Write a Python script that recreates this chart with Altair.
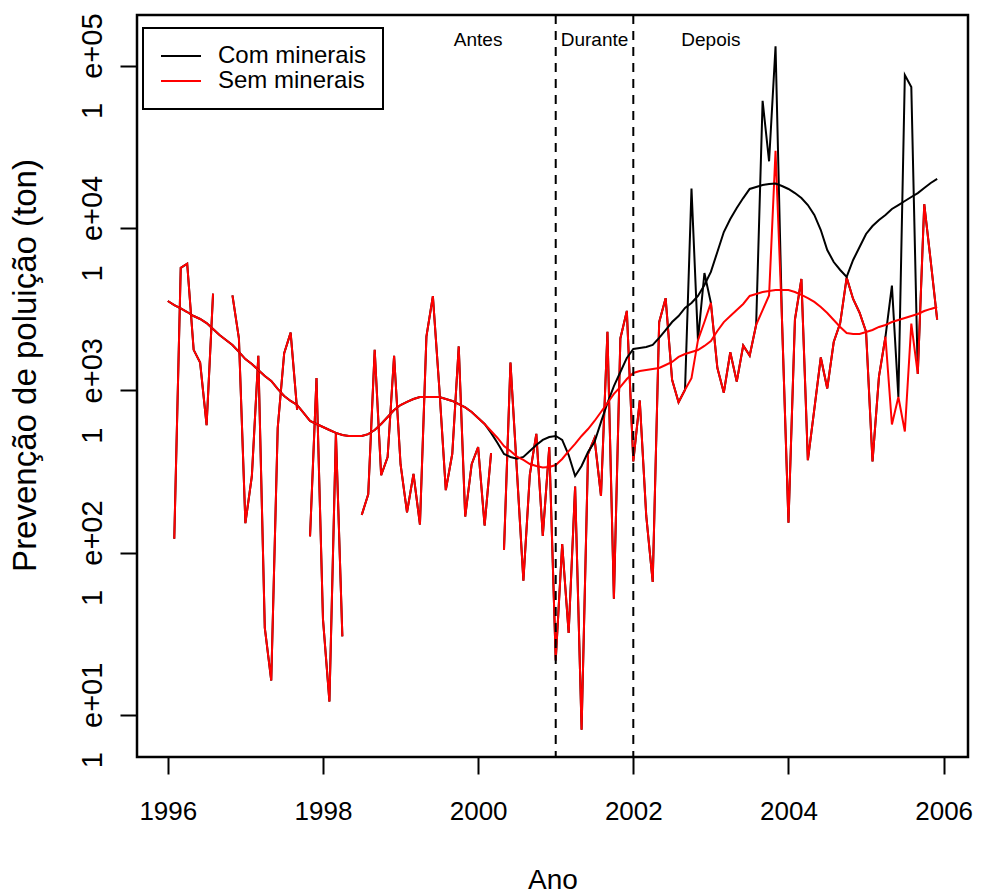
import altair as alt
import pandas as pd

# Monthly series, Jan 1996 .. Dec 2005 (None = missing month)
ano_inicial = 1996
n_meses = 120

sem_minerais = [
    None, 122, 5690, 6040, 1778, 1483, 611, 3945, None, None,
    3850, 2089, 152, 296, 1636, 34.5, 16.3, 587, 1693, 2270,
    760, None, 126, 1190, 39, 12.1, 545, 30.5, None, None,
    171, 229, 1778, 300, 388, 1636, 351, 177, 306, 149,
    2142, 3810, 1028, 243, 407, 1866, 167, 351, 448, 147,
    411, None, 104, 1483, 318, 67.3, 303, 540, 127, 448,
    21.7, 113, 32, 256, 8.1, 407, 507, 224, 2300, 52,
    2089, 3090, 365, 867, 169, 66, 2630, 3700, 1162, 845,
    1010, 1190, 2040, 2640, 3460, 1377, 968, 1718, 1132, 1891,
    1637, 2537, 3125, 3846, 29900, 2700, 153, 2730, 4855, 372,
    767, 1596, 1028, 1986, 2600, 4955, 3660, 3010, 2300, 365,
    1220, 2140, 616, 910, 558, 2578, 1262, 14030, 6270, 2730,
]

com_minerais = [
    None, 122, 5690, 6040, 1778, 1483, 611, 3945, None, None,
    3850, 2089, 152, 296, 1636, 34.5, 16.3, 587, 1693, 2270,
    760, None, 126, 1190, 39, 12.1, 545, 30.5, None, None,
    171, 229, 1778, 300, 388, 1636, 351, 177, 306, 149,
    2142, 3810, 1028, 243, 407, 1866, 167, 351, 448, 147,
    411, None, 104, 1483, 318, 67.3, 303, 540, 127, 448,
    21.7, 113, 32, 256, 8.1, 407, 507, 224, 2300, 52,
    2089, 3090, 365, 867, 169, 66, 2630, 3700, 1162, 845,
    1010, 17500, 2040, 5290, 3460, 1377, 968, 1718, 1132, 1891,
    1637, 2537, 60800, 25800, 132000, 2700, 153, 2730, 4855, 372,
    767, 1596, 1028, 1986, 2600, 4955, 3660, 3010, 2300, 365,
    1220, 2140, 4420, 910, 87700, 74000, 1262, 14030, 6270, 2730,
]

# Smoothed trend of each series
tendencia_sem = [
    3556, 3357, 3199, 3041, 2872, 2754, 2600, 2388, 2193, 2046,
    1905, 1726, 1560, 1455, 1336, 1227, 1143, 1021, 924, 861,
    813, 726, 648, 621, 595, 570, 547, 531, 524, 524,
    524, 538, 570, 621, 686, 757, 813, 849, 885, 910,
    910, 910, 910, 885, 861, 824, 785, 736, 676, 621,
    562, 509, 454, 423, 391, 373, 352, 342, 335, 337,
    347, 378, 423, 468, 524, 578, 648, 736, 836, 951,
    1050, 1175, 1280, 1318, 1336, 1355, 1374, 1434, 1496, 1607,
    1675, 1726, 1774, 1879, 2015, 2323, 2637, 2872, 3128, 3407,
    3817, 3926, 4037, 4093, 4159, 4159, 4159, 4037, 3873, 3707,
    3508, 3266, 2999, 2716, 2460, 2259, 2228, 2228, 2291, 2355,
    2460, 2529, 2637, 2716, 2793, 2872, 2958, 3083, 3177, 3266,
]

tendencia_com = [
    3556, 3357, 3199, 3041, 2872, 2754, 2600, 2388, 2193, 2046,
    1905, 1726, 1560, 1455, 1336, 1227, 1143, 1021, 924, 861,
    813, 726, 648, 621, 595, 570, 547, 531, 524, 524,
    524, 538, 570, 621, 686, 757, 813, 849, 885, 910,
    910, 910, 910, 885, 861, 824, 785, 736, 676, 621,
    547, 474, 406, 389, 380, 389, 423, 461, 495, 516,
    524, 495, 400, 297, 342, 417, 481, 638, 836, 1064,
    1298, 1585, 1799, 1824, 1852, 1905, 2104, 2355, 2637, 2872,
    3220, 3459, 3817, 4457, 5370, 7130, 9460, 11380, 13300, 15310,
    17420, 17910, 18450, 18700, 18800, 18160, 17420, 16440, 15310, 13870,
    12050, 9730, 7330, 6180, 5520, 5000, 6360, 7650, 9200, 10300,
    11220, 12050, 13120, 13870, 14690, 15550, 16440, 17660, 18970, 20090,
]

series = ["Com minerais", "Sem minerais"]
cores = ["#000000", "#FF0000"]

cortes = [2001, 2002]
fases = ["Antes", "Durante", "Depois"]
fases_ano = [2000, 2001.5, 2003]
fases_valor = [145000, 145000, 145000]

y_ticks = [10, 100, 1000, 10000, 100000]
x_ticks = [1996, 1998, 2000, 2002, 2004, 2006]
y_dominio = [5.51, 205600]
x_dominio = [1995.603, 2006.314]

anos = [ano_inicial + i / 12 for i in range(n_meses)]


def tabela(valores, serie):
    """Rows of one series; each unbroken run of months gets its own segment id."""
    linhas, seg, anterior = [], 0, False
    for ano, v in zip(anos, valores):
        if v is None:
            if anterior:
                seg += 1
            anterior = False
            continue
        anterior = True
        linhas.append({"ano": ano, "valor": v, "serie": serie, "seg": seg})
    return pd.DataFrame(linhas)


fonte = "Liberation Sans"

x_enc = alt.X(
    "ano:Q",
    scale=alt.Scale(domain=x_dominio, nice=False, zero=False),
    axis=alt.Axis(
        values=x_ticks, format="d", title="Ano", grid=False, domain=False,
        tickSize=17, tickWidth=2, tickColor="black",
        labelFontSize=26, labelPadding=24, labelFlush=False, labelOverlap=False,
        labelColor="black", titleFontSize=28, titleFontWeight="normal",
        titleColor="black", titleY=131, titleBaseline="alphabetic",
    ),
)
y_enc = alt.Y(
    "valor:Q",
    scale=alt.Scale(type="log", domain=y_dominio, nice=False),
    axis=alt.Axis(
        values=y_ticks,
        labelExpr="'1\u00a0\u00a0\u00a0e+0' + format(log(datum.value) / LN10, '.0f')",
        title="Prevenção de poluição (ton)", grid=False, domain=False,
        tickSize=17, tickWidth=2, tickColor="black",
        labelAngle=270, labelAlign="center", labelBaseline="middle",
        labelFontSize=29, labelPadding=28, labelFlush=False, labelOverlap=False,
        labelColor="black", titleFontSize=33, titleFontWeight="normal",
        titleColor="black", titleAngle=270, titleX=-112, titleY=350,
        titleAlign="center", titleBaseline="middle",
    ),
)
cor = alt.Color(
    "serie:N",
    scale=alt.Scale(domain=series, range=cores),
    legend=alt.Legend(title=None),
)


def camada(df):
    return alt.Chart(df).mark_line(strokeWidth=2).encode(
        x=x_enc, y=y_enc, color=cor, detail="seg:N"
    )


bruto_com = camada(tabela(com_minerais, series[0]))
bruto_sem = camada(tabela(sem_minerais, series[1]))
suave_com = camada(tabela(tendencia_com, series[0]))
suave_sem = camada(tabela(tendencia_sem, series[1]))

linhas_corte = alt.Chart(pd.DataFrame({"ano": cortes})).mark_rule(
    color="black", strokeWidth=2, strokeDash=[9, 7]
).encode(x="ano:Q")

rotulos = alt.Chart(
    pd.DataFrame({"ano": fases_ano, "valor": fases_valor, "fase": fases})
).mark_text(fontSize=19, align="center", baseline="middle", color="black").encode(
    x="ano:Q", y="valor:Q", text="fase:N"
)

chart = (
    alt.layer(bruto_com, bruto_sem, suave_com, suave_sem, linhas_corte, rotulos)
    .properties(
        width=831,
        height=742,
        autosize=alt.AutoSizeParams(type="none"),
        padding={"left": 137, "top": 15, "right": 14, "bottom": 139},
        background="white",
    )
    .configure(font=fonte)
    .configure_view(stroke="black", strokeWidth=2.5)
    .configure_legend(
        orient="none", legendX=6, legendY=13,
        strokeColor="black", strokeWidth=2, fillColor="white",
        padding=16, rowPadding=1,
        symbolType="M-2.5,0H2.5", symbolSize=256, symbolStrokeWidth=2,
        symbolOffset=10, labelOffset=25, labelFontSize=24, labelColor="black",
    )
)

chart.save("out.html", embed_options={"renderer": "svg", "actions": False})
